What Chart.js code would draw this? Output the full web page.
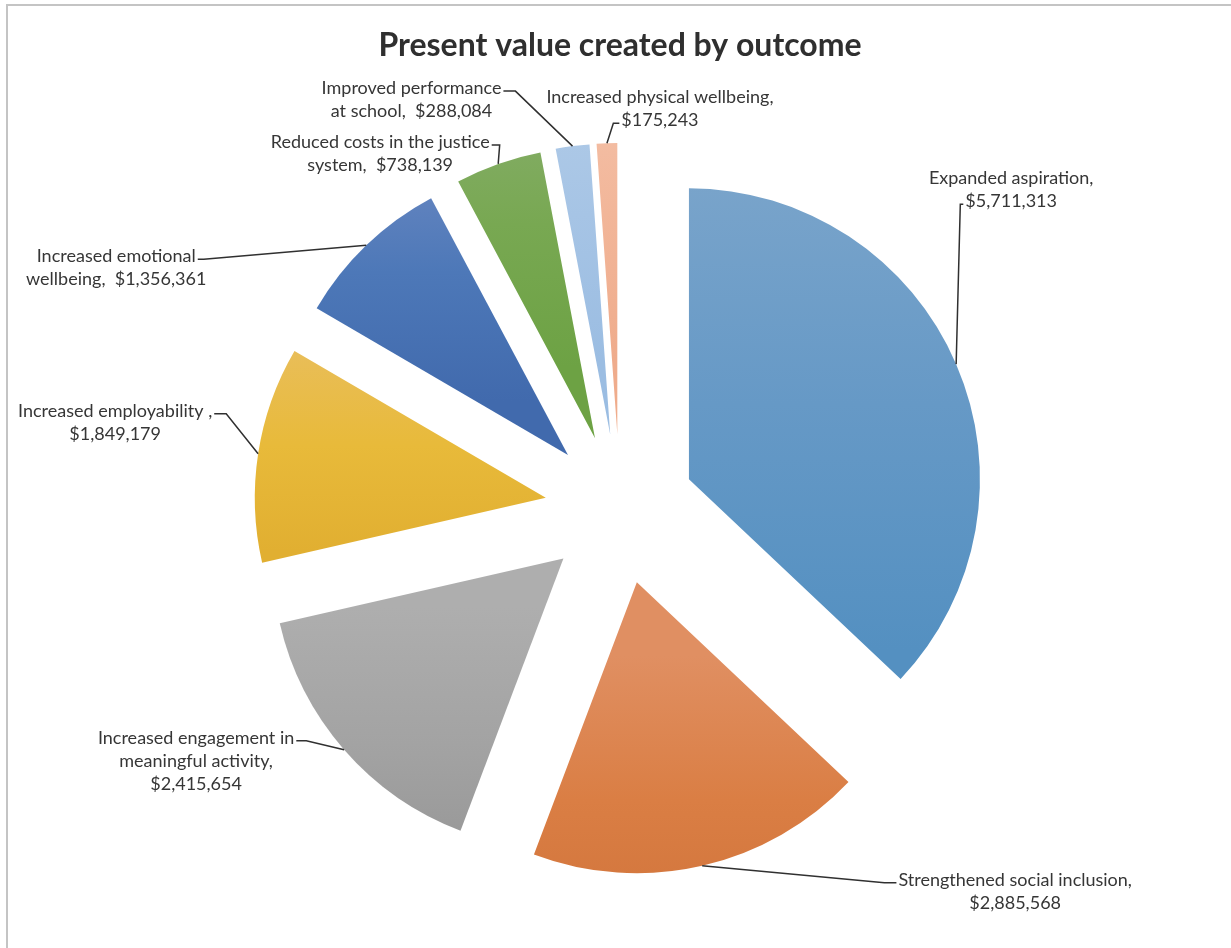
<!DOCTYPE html>
<html>
<head>
<meta charset="utf-8">
<script src="https://cdn.jsdelivr.net/npm/chart.js@4.4.1/dist/chart.umd.min.js"></script>
<style>
  html, body { margin: 0; padding: 0; background: #ffffff; }
  #wrap { position: relative; width: 1231px; height: 948px; }
</style>
</head>
<body>
<div id="wrap"><canvas id="chart" width="1231" height="948"></canvas></div>
<script>
// Outcomes and their present value (USD)
const outcomes = [
  'Expanded aspiration',
  'Strengthened social inclusion',
  'Increased engagement in meaningful activity',
  'Increased employability ',
  'Increased emotional wellbeing',
  'Reduced costs in the justice system',
  'Improved performance at school',
  'Increased physical wellbeing'
];
const presentValues = [5711313, 2885568, 2415654, 1849179, 1356361, 738139, 288084, 175243];

// Number of words on each line of a wrapped data label
const labelWordsPerLine = [
  [2, 1],
  [3, 1],
  [3, 2, 1],
  [3, 1],
  [2, 2],
  [5, 2],
  [2, 3],
  [3, 1]
];

// Slice fills: [top, middle, bottom] of the vertical gradient
const sliceColors = [
  ['#7BA5CB', '#6699C6', '#5490C1'],
  ['#E08F62', '#DA7E44', '#D0733A'],
  ['#AEAEAE', '#A3A3A3', '#959595'],
  ['#E9BE5C', '#E8BA3A', '#E1AF31'],
  ['#6C89C2', '#4D78B8', '#416AAD'],
  ['#88AE6D', '#78A852', '#6DA244'],
  ['#B2CCE8', '#A6C4E5', '#9BBDE2'],
  ['#F4C2AA', '#F2B699', '#EFAC8C']
];

// Label placement relative to the leader anchor on the slice edge:
// [dx, dy] to the first line's centre, attach side, attach line, tick length
const labelPlacement = [
  { dx: 55, dy: -186, side: 'left', line: 1, tick: 3 },
  { dx: 313, dy: 14, side: 'left', line: 0, tick: 12 },
  { dx: -148, dy: -12, side: 'right', line: 0, tick: 10 },
  { dx: -143, dy: -43, side: 'right', line: 0, tick: 12 },
  { dx: -250, dy: 11, side: 'right', line: 0, tick: 6 },
  { dx: -118, dy: -22, side: 'right', line: 0, tick: 8 },
  { dx: -161, dy: -58, side: 'right', line: 0, tick: 12 },
  { dx: 53, dy: -46, side: 'left', line: 1, tick: 6 }
];

const FONT = 'Lato, "Open Sans", sans-serif';
const PIE_RADIUS = 291;
const EXPLODE = 0.258;       // radial separation as a share of the radius
const LINE_GAP = 23;

const fmtMoney = v => '$' + v.toLocaleString('en-US');

function labelLines(i) {
  const words = outcomes[i].trim().split(/\s+/);
  if (outcomes[i].endsWith(' ')) words.push(',');
  else words[words.length - 1] += ',';
  words.push(fmtMoney(presentValues[i]));
  const lines = [];
  let k = 0;
  labelWordsPerLine[i].forEach(n => {
    const part = words.slice(k, k + n);
    k += n;
    let s = '';
    part.forEach((w, j) => {
      if (j === 0) s = w;
      else if (w.startsWith('$')) s += '  ' + w;
      else s += ' ' + w;
    });
    lines.push(s);
  });
  return lines;
}

// Vertical extent of a sector whose apex is (ax, ay)
function sectorYRange(ax, ay, r, a0, a1) {
  let ys = [ay, ay + r * Math.sin(a0), ay + r * Math.sin(a1)];
  [-Math.PI / 2, Math.PI / 2, 3 * Math.PI / 2].forEach(t => {
    if (t >= a0 && t <= a1) ys.push(ay + r * Math.sin(t));
  });
  return [Math.min(...ys), Math.max(...ys)];
}

function sliceFill(c) {
  const cols = sliceColors[c.dataIndex % sliceColors.length];
  const chart = c.chart;
  const area = chart.chartArea;
  if (c.type !== 'data' || !area) return cols[1];
  const total = presentValues.reduce((a, b) => a + b, 0);
  let before = 0;
  for (let j = 0; j < c.dataIndex; j++) before += presentValues[j];
  const a0 = -Math.PI / 2 + 2 * Math.PI * before / total;
  const a1 = a0 + 2 * Math.PI * presentValues[c.dataIndex] / total;
  const mid = (a0 + a1) / 2;
  const cx = (area.left + area.right) / 2;
  const cy = (area.top + area.bottom) / 2;
  const ax = cx + Math.cos(mid) * EXPLODE * PIE_RADIUS;
  const ay = cy + Math.sin(mid) * EXPLODE * PIE_RADIUS;
  const [y0, y1] = sectorYRange(ax, ay, PIE_RADIUS, a0, a1);
  const g = chart.ctx.createLinearGradient(0, y0, 0, y1);
  g.addColorStop(0, cols[0]);
  g.addColorStop(0.5, cols[1]);
  g.addColorStop(1, cols[2]);
  return g;
}

// Pulls every slice out along its bisector by the same distance
const explodedSlices = {
  id: 'explodedSlices',
  beforeDatasetDraw(chart, args) {
    const ctx = chart.ctx;
    args.meta.data.forEach(arc => {
      const mid = (arc.startAngle + arc.endAngle) / 2;
      const d = EXPLODE * arc.outerRadius;
      ctx.save();
      ctx.translate(Math.cos(mid) * d, Math.sin(mid) * d);
      arc.draw(ctx);
      ctx.restore();
    });
    return false;
  }
};

// Data labels with leader lines
const leaderLabels = {
  id: 'leaderLabels',
  afterDatasetsDraw(chart) {
    const ctx = chart.ctx;
    const meta = chart.getDatasetMeta(0);
    ctx.save();
    ctx.font = '18px ' + FONT;
    ctx.textAlign = 'center';
    ctx.textBaseline = 'middle';
    meta.data.forEach((arc, i) => {
      const mid = (arc.startAngle + arc.endAngle) / 2;
      const reach = arc.outerRadius * (1 + EXPLODE);
      const px = arc.x + Math.cos(mid) * reach;
      const py = arc.y + Math.sin(mid) * reach;
      const p = labelPlacement[i];
      const lines = labelLines(i);
      const lx = px + p.dx;
      const ly = py + p.dy;

      // leader line
      const attachText = lines[p.line];
      const w = ctx.measureText(attachText).width;
      const ayLine = ly + p.line * LINE_GAP + 3;
      const sx = p.side === 'left' ? lx - w / 2 - 2 : lx + w / 2 + 2;
      const tx = p.side === 'left' ? sx - p.tick : sx + p.tick;
      ctx.strokeStyle = '#303030';
      ctx.lineWidth = 1.5;
      ctx.beginPath();
      ctx.moveTo(sx, ayLine);
      ctx.lineTo(tx, ayLine);
      ctx.lineTo(px, py);
      ctx.stroke();

      // text
      ctx.fillStyle = '#363636';
      lines.forEach((t, k) => ctx.fillText(t, lx, ly + k * LINE_GAP));
    });
    ctx.restore();
  }
};

// Thin frame along the top and left edges
const frame = {
  id: 'frame',
  beforeDraw(chart) {
    const ctx = chart.ctx;
    ctx.save();
    ctx.strokeStyle = '#c4c4c4';
    ctx.lineWidth = 2;
    ctx.beginPath();
    ctx.moveTo(7, chart.height);
    ctx.lineTo(7, 5);
    ctx.lineTo(chart.width, 5);
    ctx.stroke();
    ctx.restore();
  }
};

new Chart(document.getElementById('chart'), {
  type: 'pie',
  data: {
    labels: outcomes,
    datasets: [{
      data: presentValues,
      backgroundColor: sliceFill,
      borderWidth: 0
    }]
  },
  options: {
    responsive: false,
    animation: false,
    radius: PIE_RADIUS,
    layout: { padding: { left: 10, right: 1, top: 0, bottom: 0 } },
    plugins: {
      legend: { display: false },
      tooltip: { enabled: false },
      title: {
        display: true,
        text: 'Present value created by outcome',
        color: '#2f2f2f',
        font: { family: FONT, size: 32, weight: 'bold' },
        padding: { top: 26, bottom: 5.8 }
      }
    }
  },
  plugins: [frame, explodedSlices, leaderLabels]
});
</script>
</body>
</html>
